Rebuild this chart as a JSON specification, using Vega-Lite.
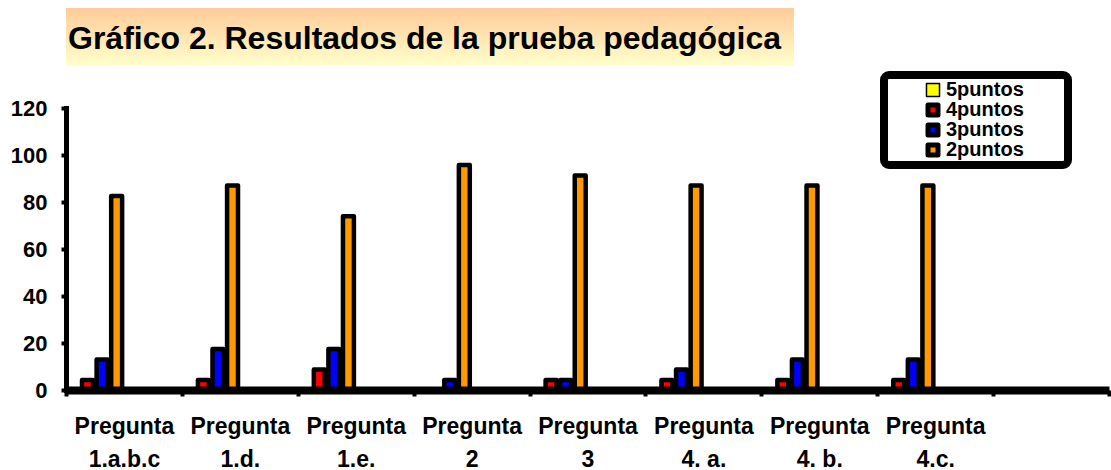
{
  "$schema": "https://vega.github.io/schema/vega-lite/v6.json",
  "padding": {"left": 10, "top": 8, "right": 0, "bottom": 0},
  "background": "white",
  "config": {"view": {"stroke": null}, "font": "Liberation Sans"},
  "bounds": "flush",
  "spacing": 42,
  "vconcat": [
    {
      "width": 728,
      "height": 58,
      "data": {"values": [{"titulo": "Gráfico 2. Resultados de la prueba pedagógica", "x0": 0, "x1": 1, "y0": 0, "y1": 1, "xt": 0, "yt": 0.5}]},
      "layer": [
        {
          "mark": {"type": "rect", "color": {"gradient": "linear", "x1": 0, "y1": 0, "x2": 0, "y2": 1, "stops": [{"offset": 0, "color": "#FFCC99"}, {"offset": 1, "color": "#FFFFCC"}]}},
          "encoding": {
            "x": {"field": "x0", "type": "quantitative", "scale": {"domain": [0, 1], "nice": false}, "axis": null},
            "x2": {"field": "x1"},
            "y": {"field": "y0", "type": "quantitative", "scale": {"domain": [0, 1], "nice": false}, "axis": null},
            "y2": {"field": "y1"}
          }
        },
        {
          "mark": {"type": "text", "align": "left", "baseline": "middle", "dx": 2, "dy": 2, "fontSize": 32, "fontWeight": "bold", "font": "Liberation Sans", "color": "black"},
          "encoding": {
            "x": {"field": "xt", "type": "quantitative", "scale": {"domain": [0, 1], "nice": false}, "axis": null},
            "y": {"field": "yt", "type": "quantitative", "scale": {"domain": [0, 1], "nice": false}, "axis": null},
            "text": {"field": "titulo"}
          }
        }
      ]
    },
    {
      "width": 1043,
      "height": 282,
      "data": {"values": [
        {"pregunta": "Pregunta 1.a.b.c", "serie": "5puntos", "valor": 0},
        {"pregunta": "Pregunta 1.a.b.c", "serie": "4puntos", "valor": 4.3},
        {"pregunta": "Pregunta 1.a.b.c", "serie": "3puntos", "valor": 13},
        {"pregunta": "Pregunta 1.a.b.c", "serie": "2puntos", "valor": 82.6},
        {"pregunta": "Pregunta 1.d.", "serie": "5puntos", "valor": 0},
        {"pregunta": "Pregunta 1.d.", "serie": "4puntos", "valor": 4.3},
        {"pregunta": "Pregunta 1.d.", "serie": "3puntos", "valor": 17.4},
        {"pregunta": "Pregunta 1.d.", "serie": "2puntos", "valor": 87},
        {"pregunta": "Pregunta 1.e.", "serie": "5puntos", "valor": 0},
        {"pregunta": "Pregunta 1.e.", "serie": "4puntos", "valor": 8.7},
        {"pregunta": "Pregunta 1.e.", "serie": "3puntos", "valor": 17.4},
        {"pregunta": "Pregunta 1.e.", "serie": "2puntos", "valor": 73.9},
        {"pregunta": "Pregunta 2", "serie": "5puntos", "valor": 0},
        {"pregunta": "Pregunta 2", "serie": "4puntos", "valor": 0},
        {"pregunta": "Pregunta 2", "serie": "3puntos", "valor": 4.3},
        {"pregunta": "Pregunta 2", "serie": "2puntos", "valor": 95.7},
        {"pregunta": "Pregunta 3", "serie": "5puntos", "valor": 0},
        {"pregunta": "Pregunta 3", "serie": "4puntos", "valor": 4.3},
        {"pregunta": "Pregunta 3", "serie": "3puntos", "valor": 4.3},
        {"pregunta": "Pregunta 3", "serie": "2puntos", "valor": 91.3},
        {"pregunta": "Pregunta 4. a.", "serie": "5puntos", "valor": 0},
        {"pregunta": "Pregunta 4. a.", "serie": "4puntos", "valor": 4.3},
        {"pregunta": "Pregunta 4. a.", "serie": "3puntos", "valor": 8.7},
        {"pregunta": "Pregunta 4. a.", "serie": "2puntos", "valor": 87},
        {"pregunta": "Pregunta 4. b.", "serie": "5puntos", "valor": 0},
        {"pregunta": "Pregunta 4. b.", "serie": "4puntos", "valor": 4.3},
        {"pregunta": "Pregunta 4. b.", "serie": "3puntos", "valor": 13},
        {"pregunta": "Pregunta 4. b.", "serie": "2puntos", "valor": 87},
        {"pregunta": "Pregunta 4.c.", "serie": "5puntos", "valor": 0},
        {"pregunta": "Pregunta 4.c.", "serie": "4puntos", "valor": 4.3},
        {"pregunta": "Pregunta 4.c.", "serie": "3puntos", "valor": 13},
        {"pregunta": "Pregunta 4.c.", "serie": "2puntos", "valor": 87}
      ]},
      "mark": {"type": "bar", "stroke": "black", "strokeWidth": 4.5, "strokeJoin": "round"},
      "encoding": {
        "x": {
          "field": "pregunta", "type": "nominal", "sort": null,
          "scale": {"domain": ["Pregunta 1.a.b.c", "Pregunta 1.d.", "Pregunta 1.e.", "Pregunta 2", "Pregunta 3", "Pregunta 4. a.", "Pregunta 4. b.", "Pregunta 4.c.", " "], "paddingInner": 0, "paddingOuter": 0},
          "axis": {
            "title": null, "zindex": 1,
            "domainColor": "black", "domainWidth": 8,
            "tickColor": "black", "tickWidth": 4, "tickSize": 6, "tickBand": "extent",
            "labelFontSize": 23, "labelFontWeight": "bold", "labelColor": "black", "labelFont": "Liberation Sans",
            "labelAngle": 0, "labelPadding": 19, "labelLineHeight": 33, "labelLimit": 300, "labelOverlap": false,
            "labelExpr": "split(replace(datum.label, 'Pregunta ', 'Pregunta|'), '|')"
          }
        },
        "xOffset": {
          "field": "serie", "type": "nominal",
          "scale": {"domain": ["5puntos", "4puntos", "3puntos", "2puntos", "e1", "e2", "e3", "e4"], "paddingInner": 0.25, "paddingOuter": 0.1}
        },
        "y": {
          "field": "valor", "type": "quantitative",
          "scale": {"domain": [0, 120], "nice": false},
          "axis": {
            "title": null, "zindex": 1, "values": [0, 20, 40, 60, 80, 100, 120], "grid": false,
            "domainColor": "black", "domainWidth": 5, "domainCap": "square",
            "tickColor": "black", "tickWidth": 4, "tickSize": 5,
            "labelFontSize": 22, "labelFontWeight": "bold", "labelColor": "black", "labelFont": "Liberation Sans",
            "labelPadding": 14
          }
        },
        "color": {
          "field": "serie", "type": "nominal",
          "scale": {"domain": ["5puntos", "4puntos", "3puntos", "2puntos"], "range": ["#FFFF00", "#FF0000", "#0000FF", "#FF9900"]},
          "legend": {
            "orient": "none", "legendX": 818, "legendY": 67,
            "title": " ", "titleOrient": "left", "titlePadding": 34, "titleFontSize": 12,
            "strokeColor": "black", "cornerRadius": 5, "fillColor": "white", "padding": 5,
            "labelFontSize": 20, "labelFont": "Liberation Sans", "labelFontWeight": "bold", "labelColor": "black",
            "labelOffset": 3, "rowPadding": 0,
            "symbolType": "square", "symbolSize": 100, "symbolStrokeColor": "black", "symbolStrokeWidth": 5,
            "encode": {
              "legend": {
                "update": {
                  "strokeWidth": {"value": 8},
                  "stroke": {"value": "black"}
                }
              },
              "labels": {
                "update": {
                  "text": {"signal": "datum.label + '\u00a0\u00a0\u00a0\u00a0\u00a0\u00a0\u00a0\u200b'"}
                }
              },
              "symbols": {
                "update": {
                  "strokeWidth": {"signal": "datum.value === '5puntos' ? 1.5 : 5"},
                  "size": {"signal": "datum.value === '5puntos' ? 170 : 100"},
                  "strokeJoin": {"value": "round"},
                  "stroke": {"value": "black"}
                }
              }
            }
          }
        }
      }
    }
  ]
}
